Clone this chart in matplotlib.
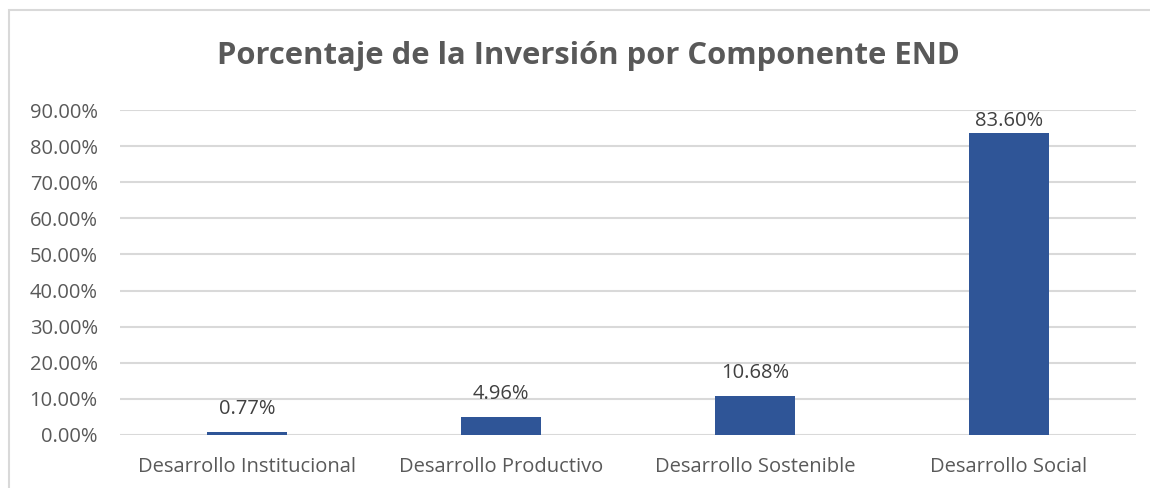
import numpy as np
import matplotlib.pyplot as plt
from matplotlib.ticker import PercentFormatter
from matplotlib.patches import Rectangle

categorias = ["Desarrollo Institucional", "Desarrollo Productivo",
              "Desarrollo Sostenible", "Desarrollo Social"]
porcentajes = [0.77, 4.96, 10.68, 83.60]
ticks_y = [0, 10, 20, 30, 40, 50, 60, 70, 80, 90]

plt.rcParams['font.family'] = ['Open Sans', 'DejaVu Sans']

fig = plt.figure(figsize=(11.5, 4.88), dpi=100)
ax = fig.add_axes([120/1150, 1-435/488, (1136-120)/1150, (435-110)/488])

# marco del grafico
fig.patches.append(Rectangle((9/1150, -0.1), 1.2, 1 - 10/488 + 0.1,
                             transform=fig.transFigure, fill=False,
                             edgecolor="#D9D9D9", linewidth=1.5))

x = np.arange(len(categorias))
ax.bar(x, porcentajes, width=0.315, color="#2F5597", zorder=3)

# etiquetas sobre las barras (la ultima queda pegada al borde, como en Excel)
for xi, v in zip(x, porcentajes):
    ax.text(xi, min(v + 3.6, 84.2), f"{v:.2f}%", ha="center", va="bottom",
            fontsize=14.5, color="#404040")

ax.set_xlim(-0.5, 3.5)
ax.set_ylim(0, 90)
ax.set_yticks(ticks_y)
ax.yaxis.set_major_formatter(PercentFormatter(decimals=2))
ax.set_xticks(x)
ax.set_xticklabels(categorias)
ax.grid(axis="y", color="#D9D9D9", linewidth=1.5, zorder=0)
for s in ax.spines.values():
    s.set_visible(False)
ax.tick_params(axis="both", length=0, labelsize=14.5, labelcolor="#595959")
ax.tick_params(axis="y", pad=16)
ax.tick_params(axis="x", pad=16)

fig.text(588/1150, 1-56/488, "Porcentaje de la Inversión por Componente END",
         ha="center", va="center", fontsize=22.3, fontweight="bold", color="#595959")

fig.savefig("out.png", dpi=100)
